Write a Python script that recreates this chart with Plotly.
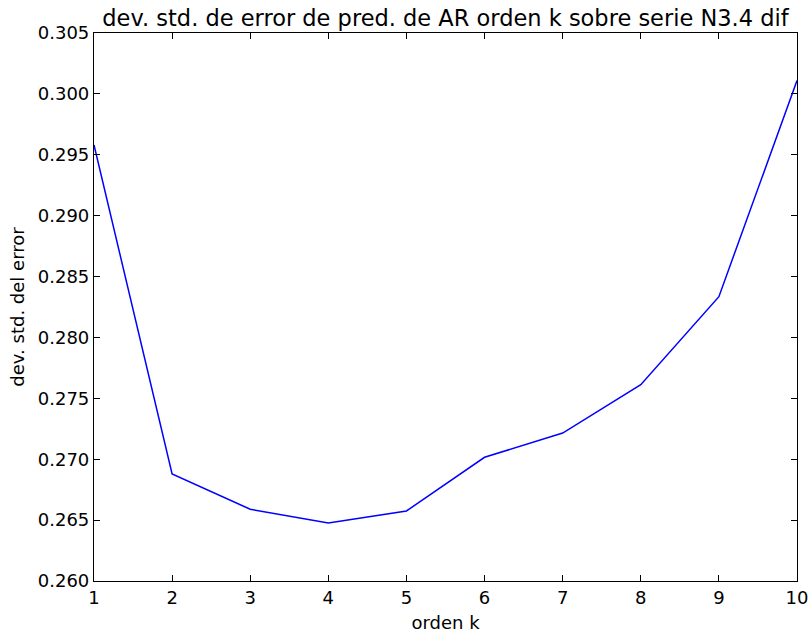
import plotly.graph_objects as go

# AR model order and the standard deviation of its prediction error
orden_k = [1, 2, 3, 4, 5, 6, 7, 8, 9, 10]
dev_std_error = [0.2958, 0.26879, 0.26589, 0.26476, 0.26575,
                 0.27016, 0.27215, 0.27612, 0.28335, 0.30109]

x_ticks = [1, 2, 3, 4, 5, 6, 7, 8, 9, 10]
y_ticks = [0.260, 0.265, 0.270, 0.275, 0.280, 0.285, 0.290, 0.295, 0.300, 0.305]

fig = go.Figure(
    go.Scatter(
        x=orden_k,
        y=dev_std_error,
        mode="lines",
        line=dict(color="#0000ff", width=1.5),
        showlegend=False,
        cliponaxis=False,
    )
)

axis_common = dict(
    showgrid=False,
    zeroline=False,
    showline=True,
    linecolor="black",
    linewidth=1.2,
    mirror="allticks",
    ticks="inside",
    ticklen=6,
    tickwidth=1,
    tickcolor="black",
    tickfont=dict(family="DejaVu Sans", size=18, color="black"),
    automargin=False,
)

fig.update_layout(
    width=811,
    height=634,
    margin=dict(l=94, r=14, t=33, b=53),
    paper_bgcolor="white",
    plot_bgcolor="white",
    font=dict(family="DejaVu Sans", color="black"),
    title=dict(
        text="dev. std. de error de pred. de AR orden k sobre serie N3.4 dif",
        font=dict(family="DejaVu Sans", size=22.5, color="black"),
        x=0.5,
        xanchor="center",
        xref="paper",
        y=1 - 18 / 634,
        yanchor="middle",
    ),
    xaxis=dict(
        **axis_common,
        range=[1, 10],
        tickvals=x_ticks,
        ticktext=[str(v) for v in x_ticks],
        title=dict(text="orden k", font=dict(family="DejaVu Sans", size=18), standoff=9),
    ),
    yaxis=dict(
        **axis_common,
        range=[0.260, 0.305],
        tickvals=y_ticks,
        ticktext=[f"{v:.3f}" for v in y_ticks],
        title=dict(text="dev. std. del error", font=dict(family="DejaVu Sans", size=18), standoff=8),
    ),
)

fig.write_html("out.html")
